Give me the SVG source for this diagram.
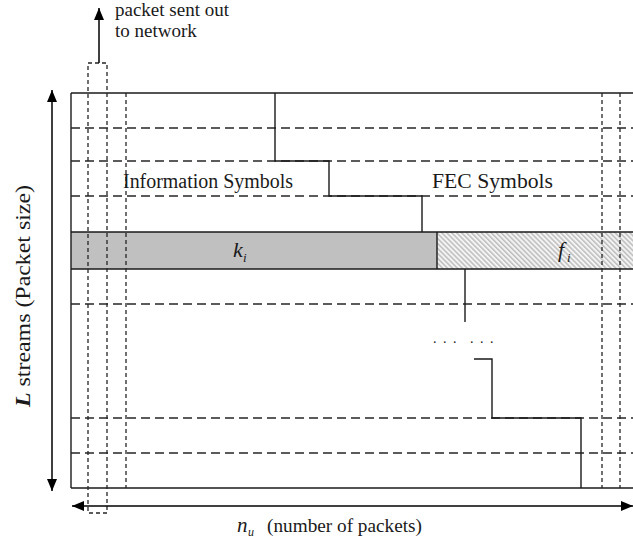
<svg xmlns="http://www.w3.org/2000/svg" width="633" height="543" viewBox="0 0 633 543">
<style>
.solid{stroke:#1a1a1a;stroke-width:1.4;fill:none}
.hd{stroke:#262626;stroke-width:1.4;stroke-dasharray:9,5;fill:none}
.vd{stroke:#262626;stroke-width:1.3;stroke-dasharray:4,3;fill:none}
text{font-family:'Liberation Serif','DejaVu Serif','Noto Serif',serif;fill:#1a1a1a}
.it{font-style:italic}
.ar{stroke:#000;stroke-width:1.5;fill:none}
</style>
<defs>
<marker id="ah" viewBox="0 0 12 10" refX="12" refY="5" markerWidth="12" markerHeight="10" markerUnits="userSpaceOnUse" orient="auto-start-reverse">
<path d="M0,0 L12,5 L0,10 z" fill="#000"/>
</marker>
<pattern id="hatch" patternUnits="userSpaceOnUse" width="3.5" height="3.5" patternTransform="rotate(-45)">
<rect width="3.5" height="3.5" fill="#f4f4f4"/>
<line x1="0.8" y1="0" x2="0.8" y2="3.5" stroke="#a8a8a8" stroke-width="1.1"/>
</pattern>
</defs>
<rect width="633" height="543" fill="#fff"/>

<g id="info-band">
<rect x="71" y="232" width="366" height="37" fill="#c0c0c0"/>
<text class="it" x="233" y="257" font-size="22" font-family="Liberation Serif, DejaVu Serif, serif">k</text>
<text class="it" x="243" y="262" font-size="13" font-family="Liberation Serif, DejaVu Serif, serif">i</text>
</g>
<g id="fec-band">
<rect x="437" y="232" width="196" height="37" fill="url(#hatch)"/>
<text class="it" x="558" y="257" font-size="22" font-family="Liberation Serif, DejaVu Serif, serif">f</text>
<text class="it" x="567" y="262" font-size="13" font-family="Liberation Serif, DejaVu Serif, serif">i</text>
</g>

<g id="grid">
<line class="solid" x1="71" y1="93" x2="633" y2="93"/>
<line class="solid" x1="71" y1="488" x2="633" y2="488"/>
<line class="solid" x1="71" y1="93" x2="71" y2="488"/>
<line class="solid" x1="71" y1="232" x2="633" y2="232"/>
<line class="solid" x1="71" y1="269" x2="633" y2="269"/>
<line class="solid" x1="437" y1="232" x2="437" y2="269"/>
<line class="hd" x1="71" y1="128" x2="633" y2="128"/>
<line class="hd" x1="71" y1="161" x2="633" y2="161"/>
<line class="hd" x1="71" y1="196" x2="633" y2="196"/>
<line class="hd" x1="71" y1="304" x2="633" y2="304"/>
<line class="hd" x1="71" y1="418" x2="633" y2="418"/>
<line class="hd" x1="71" y1="453" x2="633" y2="453"/>
<line class="vd" x1="126" y1="93" x2="126" y2="488"/>
<line class="vd" x1="602" y1="93" x2="602" y2="488"/>
<line class="vd" x1="620" y1="93" x2="620" y2="488"/>
</g>

<g id="packet-box">
<rect class="vd" x="88" y="63" width="19" height="450"/>
</g>

<g id="labels" font-family="Liberation Serif, DejaVu Serif, serif">
<text x="115" y="16" font-size="19" font-family="Liberation Serif, DejaVu Serif, serif">packet sent out</text>
<text x="115" y="37" font-size="19" font-family="Liberation Serif, DejaVu Serif, serif">to network</text>
<text x="123" y="188" font-size="20" textLength="170" lengthAdjust="spacingAndGlyphs" font-family="Liberation Serif, DejaVu Serif, serif">Information Symbols</text>
<text x="432" y="188" font-size="20" textLength="121" lengthAdjust="spacingAndGlyphs" font-family="Liberation Serif, DejaVu Serif, serif">FEC Symbols</text>
<text x="433" y="343" font-size="14" font-family="Liberation Serif, DejaVu Serif, serif"><tspan x="433 443 453 460 470 480 490">... ...</tspan></text>
<text transform="translate(29.5,407) rotate(-90)" font-size="22" textLength="222" lengthAdjust="spacingAndGlyphs" font-family="Liberation Serif, DejaVu Serif, serif"><tspan font-weight="bold" font-style="italic">L</tspan> streams (Packet size)</text>
<text class="it" x="237" y="532" font-size="21" font-family="Liberation Serif, DejaVu Serif, serif">n</text>
<text class="it" x="248" y="536" font-size="12" font-family="Liberation Serif, DejaVu Serif, serif">u</text>
<text x="267" y="532" font-size="19" textLength="155" lengthAdjust="spacingAndGlyphs" font-family="Liberation Serif, DejaVu Serif, serif">(number of packets)</text>
</g>

<g id="connectors">
<path class="solid" d="M275,93 V161 H329 V196 H422 V232"/>
<path class="solid" d="M465,269 V322"/>
<path class="solid" d="M474,359 H492 V418 H581 V488"/>
<line class="ar" x1="52" y1="90" x2="52" y2="491" marker-start="url(#ah)" marker-end="url(#ah)"/>
<line class="ar" x1="72" y1="506" x2="633" y2="506" marker-start="url(#ah)" marker-end="url(#ah)"/>
<line class="ar" x1="99" y1="63" x2="99" y2="8" marker-end="url(#ah)"/>
</g>
</svg>
